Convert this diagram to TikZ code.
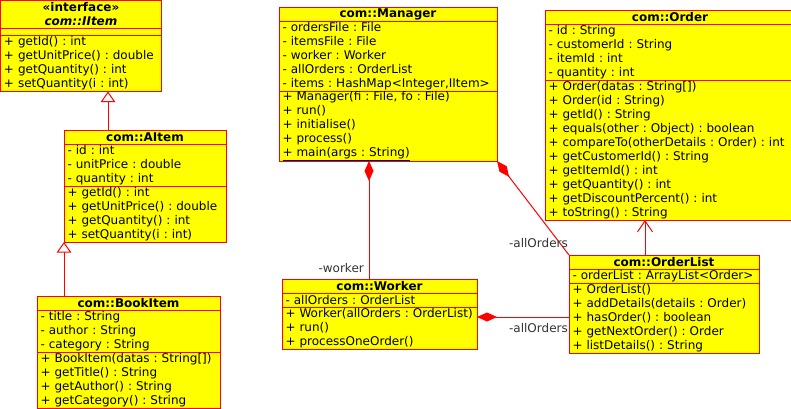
\documentclass[tikz,border=0pt]{standalone}
\usepackage{fontspec}
\setmainfont{DejaVu Sans}
\usetikzlibrary{arrows.meta}
\definecolor{umlfill}{RGB}{255,255,0}
\definecolor{umlline}{RGB}{255,0,0}
\definecolor{lblcol}{RGB}{51,51,51}
\newcommand\ml[1]{\mbox{#1}}
\tikzset{
 comp/.style={draw=umlline, fill=umlfill, line width=1pt, anchor=north west, inner xsep=3.5pt, inner ysep=0pt, outer sep=0pt, align=left, font=\fontsize{12}{14}\selectfont, text=black, execute at begin node={\frenchspacing}},
 headc/.style={comp, align=center, font=\fontsize{12}{14}\selectfont\bfseries},
 conn/.style={draw=umlline, line width=1pt},
 realize/.style={conn, -{Triangle[open, length=10.5pt, width=14.5pt, fill=white]}},
 compo/.style={conn, {Diamond[length=20pt, width=9pt, fill=umlline]}-},
 assoc/.style={conn, -{Straight Barb[length=11pt, width=15pt]}},
 lbl/.style={font=\fontsize{12}{14}\selectfont, text=lblcol, inner sep=0pt, anchor=east},
}
\begin{document}
\begin{tikzpicture}[x=1pt, y=-1pt]
\useasboundingbox (0,0) rectangle (791,408);
\fill[white] (0,0) rectangle (791,408);
\clip (0,0) rectangle (791,408);

% IItem
\node[headc, text width=154pt, minimum height=28pt] (iitemH) at (0.5,0.5) {\ml{«interface»}\\\ml{\textit{com::IItem}}};
\node[comp, text width=154pt, minimum height=7pt] (iitemA) at (iitemH.south west) {};
\node[comp, text width=154pt, minimum height=56pt] (iitemO) at (iitemA.south west) {\ml{+ getId() : int}\\\ml{+ getUnitPrice() : double}\\\ml{+ getQuantity() : int}\\\ml{+ setQuantity(i : int)}};

% AItem
\node[headc, text width=155pt, minimum height=14pt] (aitemH) at (64,130) {\ml{com::AItem}};
\node[comp, text width=155pt, minimum height=42pt] (aitemA) at (aitemH.south west) {\ml{- id : int}\\\ml{- unitPrice : double}\\\ml{- quantity : int}};
\node[comp, text width=155pt, minimum height=56pt] (aitemO) at (aitemA.south west) {\ml{+ getId() : int}\\\ml{+ getUnitPrice() : double}\\\ml{+ getQuantity() : int}\\\ml{+ setQuantity(i : int)}};

% BookItem
\node[headc, text width=176pt, minimum height=14pt] (bookH) at (37,296) {\ml{com::BookItem}};
\node[comp, text width=176pt, minimum height=42pt] (bookA) at (bookH.south west) {\ml{- title : String}\\\ml{- author : String}\\\ml{- category : String}};
\node[comp, text width=176pt, minimum height=56pt] (bookO) at (bookA.south west) {\ml{+ BookItem(datas : String[])}\\\ml{+ getTitle() : String}\\\ml{+ getAuthor() : String}\\\ml{+ getCategory() : String}};

% Manager
\node[headc, text width=211pt, minimum height=14pt] (mgrH) at (279,7) {\ml{com::Manager}};
\node[comp, text width=211pt, minimum height=70pt] (mgrA) at (mgrH.south west) {\ml{- ordersFile : File}\\\ml{- itemsFile : File}\\\ml{- worker : Worker}\\\ml{- allOrders : OrderList}\\\ml{- items : HashMap<Integer,IItem>}};
\node[comp, text width=211pt, minimum height=70pt] (mgrO) at (mgrA.south west) {\ml{+ Manager(fi : File, fo : File)}\\\ml{+ run()}\\\ml{+ initialise()}\\\ml{+ process()}\\\ml{\underline{+ main(args : String)}}};

% Order
\node[headc, text width=243pt, minimum height=14pt] (orderH) at (545,10) {\ml{com::Order}};
\node[comp, text width=243pt, minimum height=56pt] (orderA) at (orderH.south west) {\ml{- id : String}\\\ml{- customerId : String}\\\ml{- itemId : int}\\\ml{- quantity : int}};
\node[comp, text width=243pt, minimum height=140pt] (orderO) at (orderA.south west) {\ml{+ Order(datas : String[])}\\\ml{+ Order(id : String)}\\\ml{+ getId() : String}\\\ml{+ equals(other : Object) : boolean}\\\ml{+ compareTo(otherDetails : Order) : int}\\\ml{+ getCustomerId() : String}\\\ml{+ getItemId() : int}\\\ml{+ getQuantity() : int}\\\ml{+ getDiscountPercent() : int}\\\ml{+ toString() : String}};

% Worker
\node[headc, text width=188pt, minimum height=14pt] (workerH) at (282,279) {\ml{com::Worker}};
\node[comp, text width=188pt, minimum height=14pt] (workerA) at (workerH.south west) {\ml{- allOrders : OrderList}};
\node[comp, text width=188pt, minimum height=42pt] (workerO) at (workerA.south west) {\ml{+ Worker(allOrders : OrderList)}\\\ml{+ run()}\\\ml{+ processOneOrder()}};

% OrderList
\node[headc, text width=183pt, minimum height=14pt] (olH) at (569,255) {\ml{com::OrderList}};
\node[comp, text width=183pt, minimum height=14pt] (olA) at (olH.south west) {\ml{- orderList : ArrayList<Order>}};
\node[comp, text width=183pt, minimum height=70pt] (olO) at (olA.south west) {\ml{+ OrderList()}\\\ml{+ addDetails(details : Order)}\\\ml{+ hasOrder() : boolean}\\\ml{+ getNextOrder() : Order}\\\ml{+ listDetails() : String}};

% connectors
\coordinate (a1) at ([xshift=44pt]aitemH.north west);
\draw[realize] (a1) -- (a1 |- iitemO.south);
\coordinate (b1) at ([xshift=27pt]bookH.north west);
\draw[realize] (b1) -- (b1 |- aitemO.south);
\coordinate (m1) at ([xshift=90pt]mgrO.south west);
\draw[compo] (m1) -- (m1 |- workerH.north);
\draw[compo] (mgrO.south east) -- (olH.north west);
\coordinate (w1) at ([yshift=-10pt]workerO.north east);
\draw[compo] (w1) -- (w1 -| olO.west);
\coordinate (o1) at ([xshift=76pt]olH.north west);
\draw[assoc] (o1) -- (o1 |- orderO.south);

% labels
\node[lbl] (lbWorker) at (364,268) {-worker};
\node[lbl] (lbAllA) at (568,243) {-allOrders};
\node[lbl] (lbAllB) at (568,328) {-allOrders};
\end{tikzpicture}
\end{document}
